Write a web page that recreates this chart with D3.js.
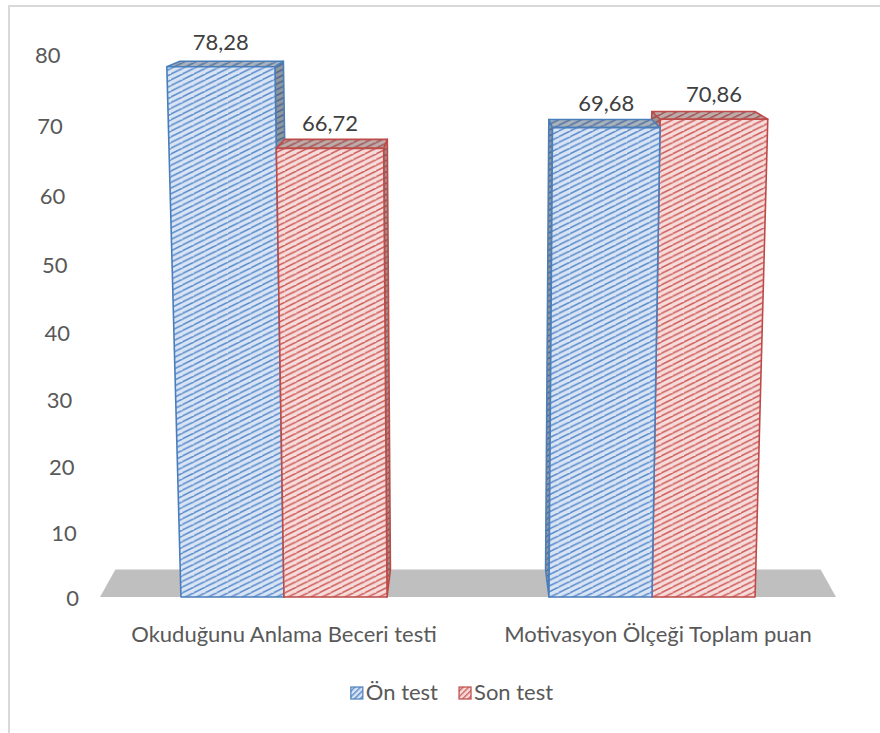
<!DOCTYPE html>
<html>
<head>
<meta charset="utf-8">
<script src="https://cdn.jsdelivr.net/npm/d3@7"></script>
<style>
  html, body { margin: 0; padding: 0; background: #fff; }
  svg { display: block; }
  text { font-family: Lato, "Open Sans", sans-serif; fill: #595959; }
</style>
</head>
<body>
<svg id="chart" width="880" height="733"></svg>
<script>
// ---- data ----
const categories = ["Okuduğunu Anlama Beceri testi", "Motivasyon Ölçeği Toplam puan"];
const seriesNames = ["Ön test", "Son test"];
const onTest = [78.28, 69.68];
const sonTest = [66.72, 70.86];
const yTicks = [0, 10, 20, 30, 40, 50, 60, 70, 80];

const seriesValues = [onTest, sonTest];
const fmt = v => d3.format(".2f")(v).replace(".", ",");

// ---- styling ----
const colors = {
  "Ön test":  { line: "#4a7ebb", bg: "#d9e5f5", stripe: "#5b8bcb" },
  "Son test": { line: "#be4b48", bg: "#f6dcdb", stripe: "#cd5f5c" }
};

const svg = d3.select("#chart");
const W = 880, H = 733;

// ---- perspective camera (world: X px at front, Y height, Z depth) ----
const cam = { cx: 468, cy: 575, dz: 5188, theta: 28.83 * Math.PI / 180 };
const sT = Math.sin(cam.theta), cT = Math.cos(cam.theta);
const focal = cam.dz * cT + cam.cy * sT;     // unit scale on the front baseline
const baseY = 597;                            // screen y of front baseline
const up0 = -cam.cy * cT + cam.dz * sT;
const y0 = baseY + up0;

function project(X, Hh, Z) {
  const depth = (Z + cam.dz) * cT - (Hh - cam.cy) * sT;
  const up = (Hh - cam.cy) * cT + (Z + cam.dz) * sT;
  return [cam.cx + focal * (X - cam.cx) / depth, y0 - focal * up / depth];
}

// ---- scales ----
const y = d3.scaleLinear().domain([0, 80]).range([0, 480]);
const x0 = d3.scaleBand().domain(categories).range([100, 836]);
const bw = x0.bandwidth();
const x1 = d3.scaleBand().domain(seriesNames).range([bw * 0.22, bw * 0.78]);
const barDepth = 240;

// ---- patterns: shallow upward diagonal hatch ----
const defs = svg.append("defs");
const tw = 11.4, th = 5.7;
seriesNames.forEach((s, i) => {
  const c = colors[s];
  const p = defs.append("pattern")
    .attr("id", "hatch" + i)
    .attr("patternUnits", "userSpaceOnUse")
    .attr("width", tw).attr("height", th);
  p.append("rect").attr("width", tw).attr("height", th).attr("fill", c.bg);
  [[0, 0], [-tw, 0], [tw, th], [0, -th], [-tw, th]].forEach(([dx, dy]) => {
    p.append("line")
      .attr("x1", dx).attr("y1", th + dy)
      .attr("x2", tw + dx).attr("y2", dy)
      .attr("stroke", c.stripe)
      .attr("stroke-width", 1.5);
  });
  const q = defs.append("pattern")
    .attr("id", "hatchSmall" + i)
    .attr("patternUnits", "userSpaceOnUse")
    .attr("width", 4).attr("height", 4)
    .attr("patternTransform", "rotate(-45)");
  q.append("rect").attr("width", 4).attr("height", 4).attr("fill", c.bg);
  q.append("rect").attr("width", 4).attr("height", 1.4).attr("fill", c.stripe);
});

// ---- frame ----
svg.append("path")
  .attr("d", `M9,${H} V6 H${W}`)
  .attr("fill", "none")
  .attr("stroke", "#d9d9d9")
  .attr("stroke-width", 2);

const line = d3.line();

// ---- floor ----
const [fx0, fx1] = x0.range();
svg.append("path")
  .attr("d", line([
    project(fx0, 0, 0), project(fx1, 0, 0),
    project(fx1, 0, barDepth), project(fx0, 0, barDepth)
  ]) + "Z")
  .attr("fill", "#bfbfbf");

// ---- y axis labels ----
svg.append("g").selectAll("text")
  .data(yTicks)
  .join("text")
  .attr("x", d => project(fx0, y(d), 0)[0] - 21)
  .attr("y", d => project(fx0, y(d), 0)[1])
  .attr("text-anchor", "end")
  .attr("dominant-baseline", "central")
  .style("font-size", "22px")
  .text(d => d);

// ---- bars ----
const bars = [];
categories.forEach((cat, ci) => {
  seriesNames.forEach((s, si) => {
    const X0 = x0(cat) + x1(s);
    const X1 = X0 + x1.bandwidth();
    bars.push({ cat, s, si, value: seriesValues[si][ci], X0, X1 });
  });
});
// draw bars farther from the camera axis first
bars.sort((a, b) =>
  Math.abs((b.X0 + b.X1) / 2 - cam.cx) - Math.abs((a.X0 + a.X1) / 2 - cam.cx));

const barLayer = svg.append("g");
bars.forEach(b => {
  const h = y(b.value);
  const c = colors[b.s];
  const g = barLayer.append("g");
  const face = (pts, shade) => {
    const d = line(pts.map(p => project(...p))) + "Z";
    g.append("path").attr("d", d)
      .attr("fill", `url(#hatch${b.si})`);
    if (shade > 0) {
      g.append("path").attr("d", d)
        .attr("fill", "#3a3a3a").attr("fill-opacity", shade);
    }
    g.append("path").attr("d", d)
      .attr("fill", "none")
      .attr("stroke", c.line)
      .attr("stroke-width", 1.6)
      .attr("stroke-linejoin", "round");
  };
  // side face turned toward the camera
  if (cam.cx < b.X0) {
    face([[b.X0, 0, 0], [b.X0, h, 0], [b.X0, h, barDepth], [b.X0, 0, barDepth]], 0.45);
  } else if (cam.cx > b.X1) {
    face([[b.X1, 0, 0], [b.X1, h, 0], [b.X1, h, barDepth], [b.X1, 0, barDepth]], 0.45);
  }
  // top face
  face([[b.X0, h, 0], [b.X1, h, 0], [b.X1, h, barDepth], [b.X0, h, barDepth]], 0.3);
  // front face
  face([[b.X0, 0, 0], [b.X1, 0, 0], [b.X1, h, 0], [b.X0, h, 0]], 0);
});

// ---- value labels ----
svg.append("g").selectAll("text")
  .data(bars)
  .join("text")
  .attr("x", d => project((d.X0 + d.X1) / 2, y(d.value), 0)[0])
  .attr("y", d => project((d.X0 + d.X1) / 2, y(d.value), 0)[1] - 17)
  .attr("text-anchor", "middle")
  .style("font-size", "22px")
  .style("fill", "#404040")
  .text(d => fmt(d.value));

// ---- category labels ----
svg.append("g").selectAll("text")
  .data(categories)
  .join("text")
  .attr("x", d => project(x0(d) + bw / 2, 0, 0)[0] + (d === categories[1] ? 6 : 0))
  .attr("y", 642)
  .attr("text-anchor", "middle")
  .style("font-size", "22px")
  .text(d => d);

// ---- legend ----
const legend = svg.append("g");
const items = legend.selectAll("g")
  .data(seriesNames)
  .join("g");
items.append("rect")
  .attr("width", 12).attr("height", 12)
  .attr("y", 687)
  .attr("fill", (d, i) => `url(#hatchSmall${i})`)
  .attr("stroke", d => colors[d].line)
  .attr("stroke-width", 1.2);
items.append("text")
  .attr("x", 15)
  .attr("y", 700)
  .style("font-size", "22px")
  .text(d => d);
const widths = [];
items.each(function () {
  widths.push(15 + this.querySelector("text").getComputedTextLength());
});
const gap = 21;
const total = d3.sum(widths) + gap * (widths.length - 1);
const start = 452 - total / 2;
items.attr("transform", (d, i) => {
  const tx = start + d3.sum(widths.slice(0, i)) + gap * i;
  return `translate(${tx},0)`;
});
</script>
</body>
</html>
